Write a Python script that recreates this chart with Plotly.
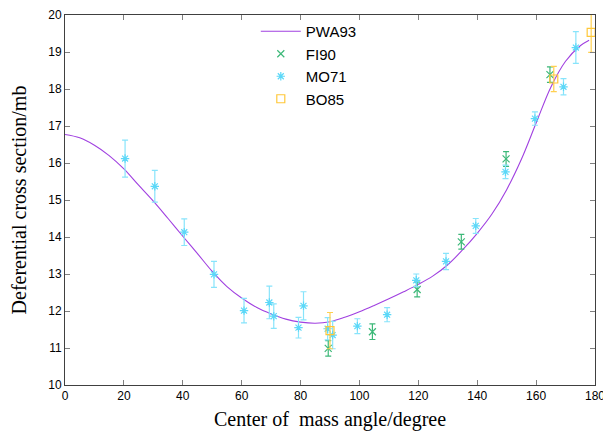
import plotly.graph_objects as go

# PWA93 curve
pwa_x = [0, 5, 10, 15, 20, 25, 30, 35, 40, 45, 50, 55, 60, 65, 70, 75, 80, 85, 90, 95,
         100, 105, 110, 115, 120, 125, 130, 135, 140, 145, 150, 155, 160, 165, 170, 175, 178]
pwa_y = [16.77, 16.68, 16.48, 16.20, 15.84, 15.40, 14.97, 14.50, 14.02, 13.55, 13.07, 12.66,
         12.35, 12.10, 11.92, 11.78, 11.70, 11.67, 11.71, 11.83, 11.98, 12.15, 12.33, 12.52,
         12.72, 12.95, 13.25, 13.65, 14.10, 14.62, 15.28, 16.10, 17.08, 18.05, 18.75, 19.17, 19.32]

# FI90 data
fi_x = [89.4, 104.4, 119.6, 134.6, 149.8, 164.7]
fi_y = [10.99, 11.44, 12.58, 13.87, 16.11, 18.39]
fi_err = [0.21, 0.21, 0.20, 0.20, 0.20, 0.21]

# MO71 data
mo_x = [20.4, 30.5, 40.5, 50.6, 60.8, 69.4, 70.9, 79.3, 81.0, 89.2, 90.9, 99.3, 109.4,
        119.3, 129.4, 139.5, 149.6, 159.6, 169.3, 173.5]
mo_y = [16.12, 15.37, 14.13, 12.99, 12.01, 12.23, 11.86, 11.55, 12.14, 11.52, 11.35, 11.59,
        11.90, 12.83, 13.34, 14.30, 15.76, 17.20, 18.06, 19.12]
mo_err = [0.50, 0.43, 0.36, 0.35, 0.33, 0.44, 0.33, 0.28, 0.38, 0.30, 0.37, 0.20, 0.19,
          0.17, 0.22, 0.20, 0.18, 0.18, 0.22, 0.43]

# BO85 data
bo_x = [90.0, 166.0, 178.7]
bo_y = [11.47, 18.27, 19.53]
bo_err = [0.49, 0.34, 0.54]

x_ticks = list(range(0, 181, 20))
y_ticks = list(range(10, 21, 1))

fig = go.Figure()
fig.add_trace(go.Scatter(x=pwa_x, y=pwa_y, mode="lines", name="PWA93",
                         line=dict(color="#a040e0", width=1.1, shape="spline")))
fig.add_trace(go.Scatter(x=fi_x, y=fi_y, mode="markers", name="FI90",
                         marker=dict(symbol="x-thin-open", size=7, color="#3cb878",
                                     line=dict(width=1.2, color="#3cb878")),
                         error_y=dict(type="data", array=fi_err, color="#3cb878",
                                      thickness=1.2, width=3)))
fig.add_trace(go.Scatter(x=mo_x, y=mo_y, mode="markers", name="MO71",
                         marker=dict(symbol="asterisk-open", size=7, color="#5cd8f8",
                                     line=dict(width=1.2, color="#5cd8f8")),
                         error_y=dict(type="data", array=mo_err, color="#88e4fb",
                                      thickness=1.2, width=3)))
fig.add_trace(go.Scatter(x=bo_x, y=bo_y, mode="markers", name="BO85",
                         marker=dict(symbol="square-open", size=8, color="#ffc83a",
                                     line=dict(width=1.2, color="#ffc83a")),
                         error_y=dict(type="data", array=bo_err, color="#ffd050",
                                      thickness=1.2, width=3)))

axis_common = dict(showgrid=False, zeroline=False, showline=True, linecolor="#404040",
                   linewidth=1, mirror="allticks", ticks="inside", ticklen=5,
                   tickcolor="#808080", automargin=False,
                   tickfont=dict(family="Liberation Sans, Arial", size=12, color="black"))

# the page has an 8px body margin, so the figure is sized to fit the window
fig.update_layout(
    width=603, height=424,
    margin=dict(l=57, r=16, t=7, b=47),
    paper_bgcolor="white", plot_bgcolor="white",
    xaxis=dict(range=[0, 180], tickvals=x_ticks,
               title=dict(text="Center of  mass angle/degree", standoff=9,
                          font=dict(family="Liberation Serif, Times New Roman", size=20,
                                    color="black")),
               **axis_common),
    yaxis=dict(range=[10, 20], tickvals=y_ticks,
               title=dict(text="Deferential cross section/mb", standoff=16,
                          font=dict(family="Liberation Serif, Times New Roman", size=20,
                                    color="black")),
               **axis_common),
    legend=dict(x=0.36, y=1.0, xanchor="left", yanchor="top",
                bgcolor="rgba(0,0,0,0)", tracegroupgap=0,
                font=dict(family="Liberation Sans, Arial", size=15, color="black"),
                itemwidth=40),
    showlegend=True,
)

fig.write_html("out.html")
